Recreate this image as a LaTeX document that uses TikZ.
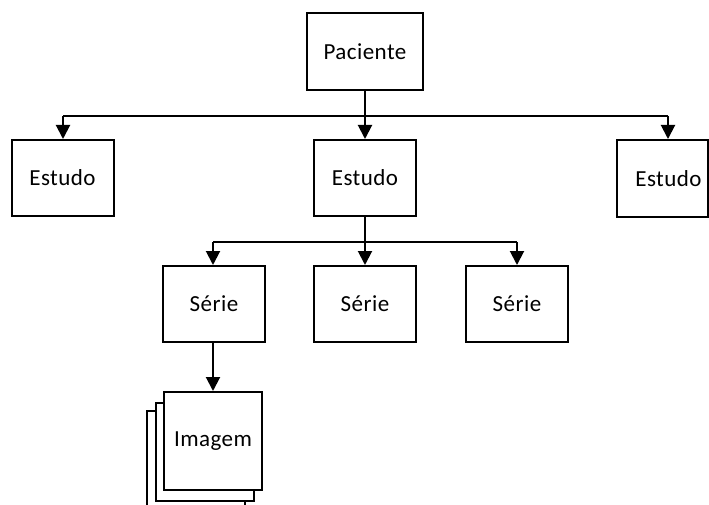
\documentclass[tikz,border=0pt]{standalone}
\usepackage{fontspec}
\setmainfont{Carlito}[LetterSpace=2.0]
\usetikzlibrary{arrows.meta}
\begin{document}
\begin{tikzpicture}[x=1pt,y=-1pt,
  box/.style={draw,line width=2pt,fill=white,inner sep=0pt,minimum width=102pt,minimum height=76pt,font=\fontsize{23}{27}\selectfont},
  sq/.style={box,minimum width=98pt,minimum height=98pt},
  conn/.style={line width=2pt},
  arr/.style={line width=2pt,-{Triangle[width=14pt,length=14pt]}}]
\useasboundingbox (0,0) rectangle (709,505);
\node[box,minimum width=116pt,minimum height=77pt] (pac) at (365,51.5) {Paciente};
\node[box] (e1) at (62.5,178) {Estudo};
\node[box] (e2) at (365,178) {Estudo};
\node[box,minimum width=91pt,minimum height=77pt] (e3) at (662.5,178.5) {\hspace*{12pt}Estudo};
\node[box] (s1) at (214,304) {Série};
\node[box] (s2) at (365,304) {Série};
\node[box] (s3) at (517,304) {Série};
\node[sq] (i3) at (196,460) {};
\node[sq] (i2) at (205,452) {};
\node[sq] (i1) at (213,441) {Imagem};
% bus 1
\coordinate (b1) at (365,116);
\coordinate (b1l) at (63,116);
\coordinate (b1r) at (668,116);
\draw[conn] (pac.south) -- (b1);
\draw[conn] (b1l) -- (b1r);
\draw[arr] (b1l) -- (b1l |- e1.north);
\draw[arr] (b1) -- (e2.north);
\draw[arr] (b1r) -- (b1r |- e3.north);
% bus 2
\coordinate (b2) at (365,242);
\coordinate (b2l) at (213,242);
\coordinate (b2r) at (517,242);
\draw[conn] (e2.south) -- (b2);
\draw[conn] (b2l) -- (b2r);
\draw[arr] (b2l) -- (b2l |- s1.north);
\draw[arr] (b2) -- (s2.north);
\draw[arr] (b2r) -- (s3.north);
\draw[arr] (s1.south -| i1.north) -- (i1.north);
\end{tikzpicture}
\end{document}
